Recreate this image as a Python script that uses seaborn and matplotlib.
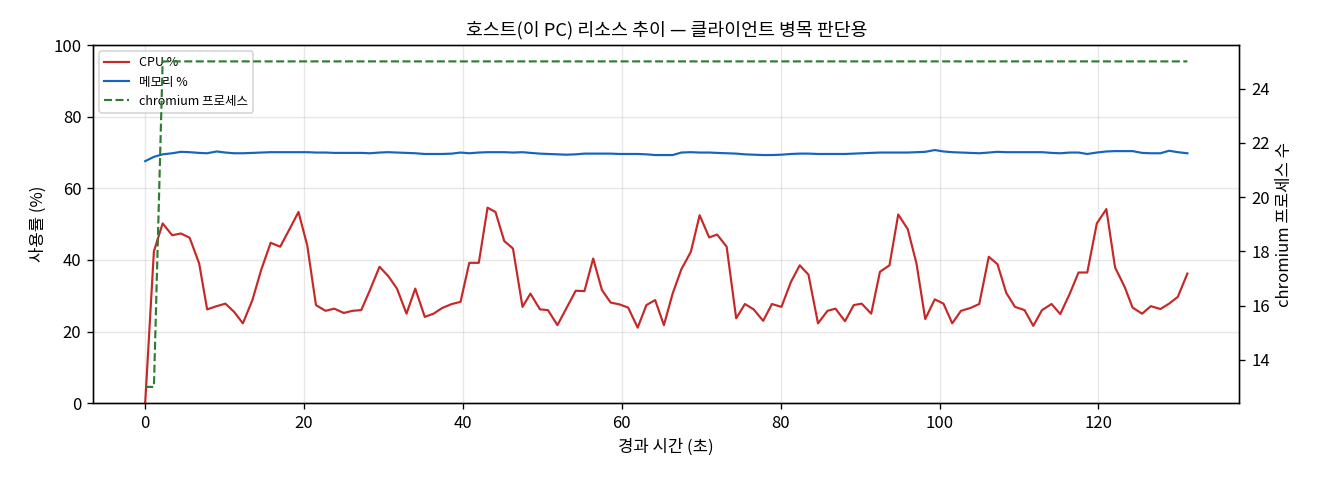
import numpy as np
import pandas as pd
import matplotlib
matplotlib.use("Agg")
import matplotlib.pyplot as plt
import seaborn as sns

# 경과 시간 (초)
elapsed = [0.0, 1.1, 2.2, 3.4, 4.5, 5.6, 6.8, 7.8, 9.0, 10.1,
           11.2, 12.3, 13.5, 14.6, 15.8, 17.0, 18.1, 19.3, 20.4, 21.5,
           22.7, 23.8, 25.0, 26.1, 27.2, 28.3, 29.5, 30.6, 31.7, 32.9,
           34.0, 35.2, 36.3, 37.4, 38.6, 39.7, 40.8, 42.0, 43.1, 44.1,
           45.2, 46.3, 47.5, 48.5, 49.7, 50.7, 51.9, 53.0, 54.2, 55.3,
           56.4, 57.5, 58.6, 59.7, 60.8, 62.0, 63.1, 64.2, 65.3, 66.4,
           67.5, 68.7, 69.8, 71.0, 72.0, 73.2, 74.4, 75.5, 76.6, 77.8,
           78.9, 80.1, 81.3, 82.4, 83.5, 84.7, 85.9, 86.9, 88.1, 89.2,
           90.2, 91.4, 92.5, 93.7, 94.8, 96.0, 97.1, 98.2, 99.4, 100.5,
           101.6, 102.7, 103.9, 105.0, 106.2, 107.3, 108.4, 109.5, 110.7, 111.8,
           112.9, 114.1, 115.2, 116.4, 117.5, 118.6, 119.8, 121.0, 122.1, 123.3,
           124.3, 125.5, 126.6, 127.8, 128.9, 130.0, 131.2]

cpu = [0.0, 42.4, 50.2, 46.9, 47.4, 46.2, 39.0, 26.2, 27.1, 27.8,
       25.5, 22.3, 28.8, 37.2, 44.8, 43.7, 48.3, 53.4, 44.1, 27.4,
       25.8, 26.4, 25.2, 25.8, 26.0, 31.6, 38.1, 35.5, 32.0, 25.0,
       32.0, 24.1, 25.0, 26.6, 27.7, 28.3, 39.2, 39.2, 54.6, 53.4,
       45.3, 43.2, 26.9, 30.6, 26.2, 26.0, 21.8, 26.4, 31.4, 31.3,
       40.4, 31.6, 28.1, 27.6, 26.7, 21.1, 27.4, 28.8, 21.8, 30.6,
       37.4, 42.3, 52.5, 46.3, 47.1, 43.7, 23.7, 27.7, 26.2, 23.0,
       27.7, 26.9, 33.9, 38.5, 35.9, 22.3, 25.8, 26.4, 22.9, 27.4,
       27.8, 25.0, 36.7, 38.5, 52.7, 48.6, 39.0, 23.5, 29.0, 27.8,
       22.3, 25.8, 26.6, 27.7, 40.9, 38.8, 30.8, 26.9, 26.0, 21.6,
       26.0, 27.7, 24.9, 30.6, 36.5, 36.5, 50.2, 54.2, 37.9, 32.5,
       26.7, 25.0, 27.1, 26.3, 27.8, 29.7, 36.2]

memory = [67.6, 68.8, 69.5, 69.8, 70.2, 70.1, 69.9, 69.8, 70.3, 70.0,
          69.8, 69.8, 69.9, 70.0, 70.1, 70.1, 70.1, 70.1, 70.1, 70.0,
          70.0, 69.9, 69.9, 69.9, 69.9, 69.8, 70.0, 70.1, 70.0, 69.9,
          69.8, 69.6, 69.6, 69.6, 69.7, 70.0, 69.8, 70.0, 70.1, 70.1,
          70.1, 70.0, 70.1, 69.9, 69.7, 69.6, 69.5, 69.4, 69.5, 69.7,
          69.7, 69.7, 69.7, 69.6, 69.6, 69.6, 69.5, 69.3, 69.3, 69.3,
          70.0, 70.1, 70.0, 70.0, 69.9, 69.8, 69.7, 69.5, 69.4, 69.3,
          69.3, 69.4, 69.6, 69.7, 69.7, 69.6, 69.6, 69.6, 69.6, 69.7,
          69.8, 69.9, 70.0, 70.0, 70.0, 70.0, 70.1, 70.2, 70.7, 70.3,
          70.1, 70.0, 69.9, 69.8, 70.0, 70.2, 70.1, 70.1, 70.1, 70.1,
          70.1, 69.9, 69.8, 70.0, 70.0, 69.6, 70.0, 70.3, 70.4, 70.4,
          70.4, 69.9, 69.8, 69.8, 70.5, 70.1, 69.8]

chromium = [13, 13] + [25] * 115

df = pd.DataFrame({"t": elapsed, "cpu": cpu, "mem": memory, "chromium": chromium})

plt.style.use('default')
plt.rcParams['font.family'] = ['Noto Sans CJK KR', 'DejaVu Sans']
plt.rcParams['axes.unicode_minus'] = False

fig, ax = plt.subplots(figsize=(11, 4), dpi=120)
ax2 = ax.twinx()

sns.lineplot(data=df, x="t", y="cpu", ax=ax, color="#c62828", linewidth=1.3, label="CPU %")
sns.lineplot(data=df, x="t", y="mem", ax=ax, color="#1565c0", linewidth=1.3, label="메모리 %")
sns.lineplot(data=df, x="t", y="chromium", ax=ax2, color="#2e7d32", linewidth=1.3,
             linestyle="--", label="chromium 프로세스")

ax.set_ylim(0, 100)
ax.set_xlabel("경과 시간 (초)", fontsize=10)
ax.set_ylabel("사용률 (%)", fontsize=10)
ax2.set_ylabel("chromium 프로세스 수", fontsize=10)
ax.set_title("호스트(이 PC) 리소스 추이 — 클라이언트 병목 판단용", fontsize=11)
ax.grid(True, alpha=0.3)

h1, l1 = ax.get_legend_handles_labels()
h2, l2 = ax2.get_legend_handles_labels()
ax2.get_legend().remove()
ax.legend(h1 + h2, l1 + l2, loc="upper left", fontsize=7.5)

ax.tick_params(labelsize=10)
ax2.tick_params(labelsize=10)

fig.subplots_adjust(left=0.0705, right=0.939, top=0.906, bottom=0.16)
fig.savefig("out.png", dpi=120)
